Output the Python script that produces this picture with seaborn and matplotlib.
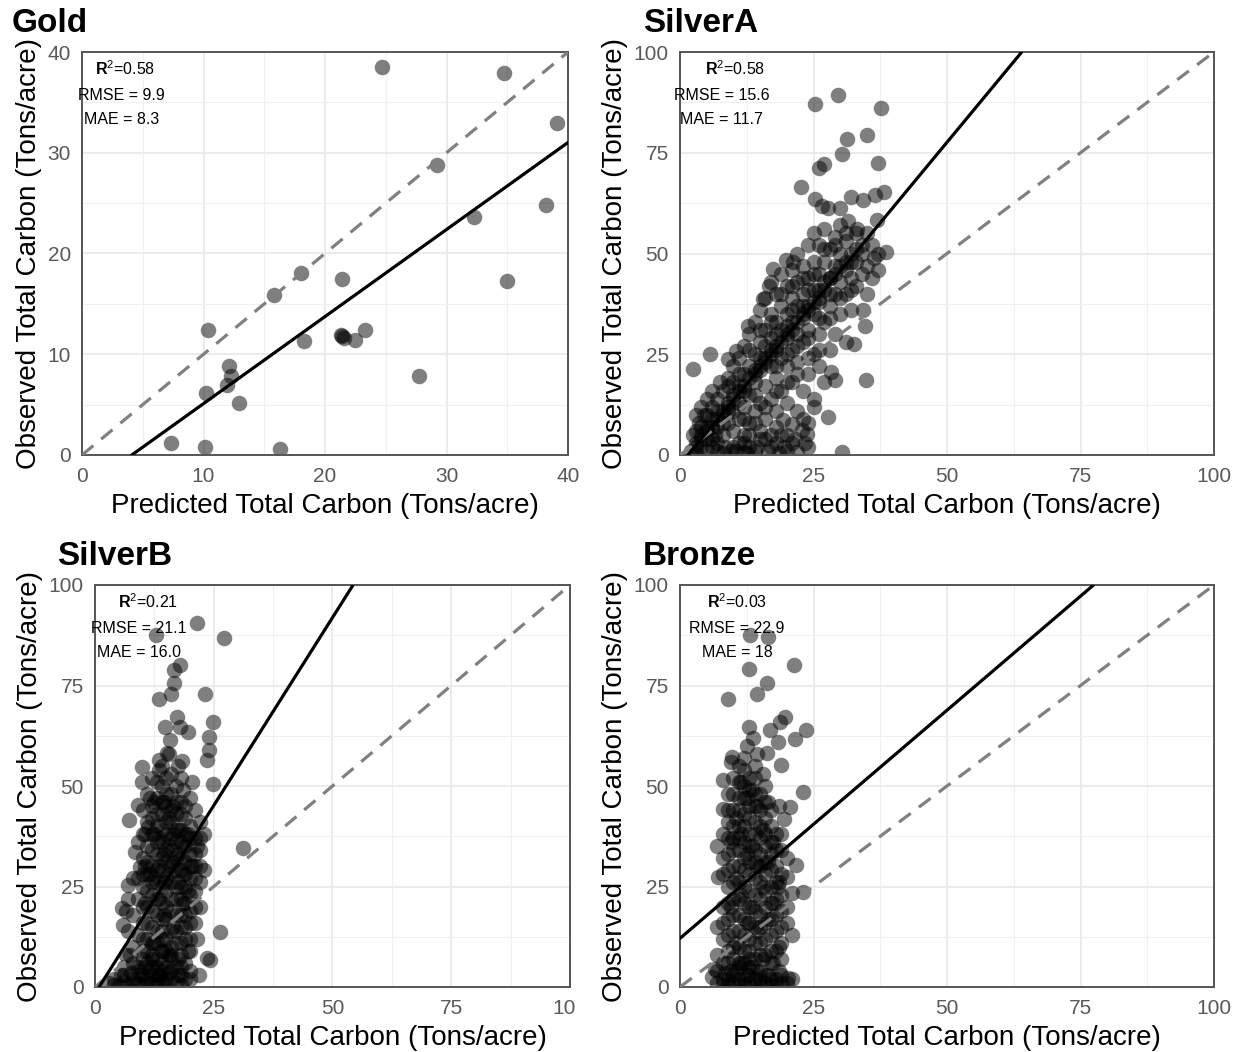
import matplotlib
matplotlib.use('Agg')
import matplotlib.pyplot as plt
from matplotlib.transforms import Bbox, TransformedBbox
import numpy as np
import pandas as pd
import seaborn as sns

sns.set_style("white")
plt.rcParams['font.family'] = ['Liberation Sans', 'DejaVu Sans']
plt.rcParams['text.color'] = 'black'
plt.rcParams['axes.labelcolor'] = 'black'
plt.rcParams['mathtext.fontset'] = 'custom'
plt.rcParams['mathtext.rm'] = 'Liberation Sans'
plt.rcParams['mathtext.bf'] = 'Liberation Sans:bold'

# --- data ---------------------------------------------------------------
gold_pred = [24.7, 34.7, 39.1, 29.2, 38.2, 32.3, 35.0, 18.0, 21.4, 15.8, 10.4, 18.3, 21.3,
             21.4, 21.6, 22.5, 23.3, 27.7, 12.1, 12.3, 11.9, 10.2, 12.9, 7.3, 10.1, 16.3]
gold_obs = [38.5, 37.9, 33.0, 28.8, 24.8, 23.6, 17.3, 18.1, 17.5, 15.9, 12.4, 11.3, 11.9,
            11.8, 11.6, 11.4, 12.4, 7.8, 8.8, 7.8, 6.9, 6.2, 5.2, 1.2, 0.8, 0.6]

silver_a_points = [
    (2.5, 21.4), (5.6, 25.1), (29.6, 89.3), (25.3, 87.0), (37.7, 86.2), (31.3, 78.4), (35.1, 79.4),
    (30.4, 74.6), (26.0, 71.2), (26.9, 72.2), (37.1, 72.4), (22.7, 66.6), (25.3, 63.4), (32.0, 64.1),
    (34.2, 63.3), (36.6, 64.4), (38.2, 65.3), (26.6, 61.7), (27.8, 61.3), (29.9, 61.2), (36.8, 58.2),
    (31.5, 58.0), (33.2, 56.2), (38.5, 50.4), (36.4, 49.0), (19.8, 48.3), (21.2, 48.0), (17.4, 46.1),
    (16.6, 41.9), (15.5, 38.7), (35.0, 39.9), (34.3, 36.1), (34.7, 32.1), (32.6, 27.6), (34.8, 18.7),
    (30.4, 0.8), (12.7, 32.1), (10.4, 25.9), (8.9, 23.9), (28.2, 20.6), (29.1, 18.5), (27.8, 9.5),
    (25.0, 14.0), (22.8, 6.2), (23.7, 5.3), (19.3, 8.6), (20.9, 7.8),
    (2, 1), (3, 0.5), (3, 3), (4, 2), (4, 5), (5, 1), (5, 4), (5, 7), (6, 2), (6, 9), (2.5, 5),
    (3.5, 8), (4.5, 10), (6.5, 5), (7, 1), (7, 3), (6, 12), (7, 7), (7, 14), (8, 5), (8, 10),
    (8, 16), (9, 8), (9, 13), (9, 19), (10, 6), (10, 11), (10, 15), (10, 22), (7.5, 18), (8.5, 2),
    (9.5, 1), (11, 3), (11, 9), (11, 17), (11, 24), (12, 5), (12, 12), (12, 20), (12, 27), (13, 2),
    (13, 8), (13, 15), (13, 22), (13, 30), (14, 11), (14, 18), (14, 25), (14, 33), (15, 4), (15, 13),
    (15, 21), (15, 28), (15, 36), (10.5, 1), (12.5, 0.5), (14.5, 2), (16, 9), (16, 17), (16, 24),
    (16, 31), (16, 39), (17, 14), (17, 22), (17, 29), (17, 35), (17, 43), (18, 3), (18, 11),
    (18, 19), (18, 26), (18, 33), (18, 40), (19, 16), (19, 24), (19, 31), (19, 37), (19, 45),
    (20, 5), (20, 13), (20, 22), (20, 29), (20, 35), (20, 42), (16.5, 1), (18.5, 0.5), (19.5, 2),
    (21, 18), (21, 26), (21, 33), (21, 39), (21, 46), (22, 11), (22, 23), (22, 30), (22, 37),
    (22, 43), (22, 50), (23, 16), (23, 28), (23, 34), (23, 40), (23, 47), (24, 2), (24, 20),
    (24, 31), (24, 37), (24, 44), (24, 52), (25, 12), (25, 25), (25, 35), (25, 41), (25, 48),
    (25, 55), (21.5, 4), (23.5, 3), (26, 22), (26, 30), (26, 38), (26, 45), (26, 52), (27, 18),
    (27, 33), (27, 41), (27, 48), (27, 56), (28, 26), (28, 37), (28, 44), (28, 51), (29, 30),
    (29, 40), (29, 47), (29, 54), (30, 35), (30, 43), (30, 50), (30, 57), (31, 28), (31, 40),
    (31, 46), (31, 53), (32, 36), (32, 44), (32, 50), (33, 42), (33, 48), (33, 55), (34, 45),
    (34, 52), (35, 47), (35, 55), (36, 44), (36, 52), (37, 50), (37, 46), (8, 0.5), (10, 2),
    (12, 3), (14, 1), (15, 6), (16, 4), (17, 2), (18, 7), (19, 5), (20, 1), (21, 3), (22, 0.8),
    (24, 8), (13, 5), (4, 12), (5, 14), (3, 10), (6, 16), (11, 13), (14, 21), (17, 26), (20, 32),
    (23, 37), (26, 41), (28, 40), (24, 41), (21, 36), (18, 30), (15, 24), (12, 17), (9, 11),
    (3, 2), (4, 4), (5, 6), (6, 7), (7, 9), (8, 11), (9, 12), (10, 14), (11, 16), (12, 16),
    (13, 19), (14, 20), (15, 22), (16, 23), (17, 25), (18, 27), (19, 28), (20, 30), (21, 31),
    (22, 33), (23, 35), (24, 36), (25, 38), (26, 39), (27, 43), (28, 44), (29, 45), (30, 47),
    (31, 48), (32, 48), (33, 51), (34, 50), (4, 7), (6, 4), (8, 8), (10, 18), (12, 9), (14, 15),
    (16, 27), (18, 22), (20, 25), (22, 27), (24, 29), (26, 34), (28, 34), (30, 39), (32, 41),
    (13, 26), (15, 31), (17, 33), (19, 40), (21, 42), (23, 44), (25, 45), (27, 51), (29, 52),
    (31, 55), (11, 20), (9, 17), (7, 11), (5, 10), (3, 6), (16, 12), (18, 16), (20, 18), (22, 20),
    (24, 24), (26, 26), (12, 0.8), (17, 5), (23, 9), (14, 8),
]

silver_b_points = [
    (21.4, 90.5), (27.2, 86.9), (12.8, 87.6), (17.9, 80.1), (16.6, 78.9), (16.6, 75.5), (15.9, 73.0),
    (13.5, 71.6), (23.2, 73.0), (17.2, 67.2), (14.7, 64.8), (17.9, 64.8), (24.9, 65.8), (19.6, 63.5),
    (15.8, 61.4), (24.1, 62.1), (23.9, 59.0), (15.2, 58.1), (13.5, 56.5), (18.3, 56.1), (23.5, 56.5),
    (9.8, 54.8), (9.8, 51.1), (24.9, 50.5), (11.6, 46.9), (7.2, 41.5), (9.1, 45.3), (11.2, 39.9),
    (31.2, 34.5), (8.4, 33.7), (9.5, 29.9), (7.0, 25.4), (5.6, 19.6), (5.9, 15.4), (26.3, 13.8),
    (7.4, 8.0), (23.5, 7.1), (21.8, 3.0), (24.2, 6.7),
    (3, 1), (4, 2), (5, 0.5), (6, 1.5), (7, 0.5), (8, 2), (9, 1), (10, 0.5), (11, 2), (12, 1),
    (13, 0.5), (14, 1.5), (15, 0.5), (16, 2), (17, 1), (18, 0.5), (5.5, 3), (7.5, 3.5), (9.5, 3),
    (11.5, 4), (13.5, 3), (15.5, 3.5), (17.5, 3), (19, 2), (6, 5), (8, 6), (10, 7), (12, 5),
    (14, 6), (16, 7), (18, 5), (20, 4),
    (8, 10), (8, 18), (8, 27), (9, 13), (9, 22), (9, 36), (10, 9), (10, 16), (10, 25), (10, 32),
    (10, 44), (11, 12), (11, 20), (11, 28), (11, 35), (11, 48), (12, 8), (12, 15), (12, 23),
    (12, 30), (12, 38), (12, 42), (12, 52), (13, 11), (13, 18), (13, 26), (13, 33), (13, 40),
    (13, 47), (14, 9), (14, 14), (14, 21), (14, 29), (14, 36), (14, 43), (14, 50), (14, 55),
    (15, 12), (15, 17), (15, 24), (15, 31), (15, 38), (15, 45), (15, 52), (16, 10), (16, 19),
    (16, 26), (16, 34), (16, 41), (16, 48), (16, 53), (17, 14), (17, 22), (17, 29), (17, 36),
    (17, 43), (17, 50), (18, 11), (18, 18), (18, 25), (18, 32), (18, 39), (18, 46), (18, 52),
    (19, 15), (19, 21), (19, 28), (19, 35), (19, 42), (20, 12), (20, 19), (20, 27), (20, 33),
    (20, 40), (20, 47), (21, 16), (21, 24), (21, 30), (21, 37), (21, 44), (22, 20), (22, 26),
    (22, 34), (22, 41), (23, 29), (23, 38),
    (10.5, 5), (10.5, 21), (10.5, 38), (12.5, 11), (12.5, 27), (12.5, 46), (13.5, 3), (13.5, 22),
    (13.5, 37), (13.5, 54), (14.5, 18), (14.5, 33), (14.5, 46), (15.5, 8), (15.5, 28), (15.5, 42),
    (15.5, 58), (16.5, 15), (16.5, 31), (16.5, 45), (17.5, 7), (17.5, 26), (17.5, 39), (17.5, 55),
    (18.5, 21), (18.5, 35), (18.5, 49), (19.5, 9), (19.5, 24), (19.5, 38), (20.5, 30), (20.5, 51),
    (21.5, 12), (21.5, 35), (7, 14), (7, 22), (6.5, 8), (6.5, 19),
    (9, 5), (9, 27), (10, 12), (10, 20), (10, 28), (10, 38), (11, 6), (11, 16), (11, 24), (11, 31),
    (11, 41), (12, 11), (12, 19), (12, 26), (12, 34), (12, 45), (13, 7), (13, 14), (13, 22),
    (13, 29), (13, 36), (13, 43), (13, 51), (14, 12), (14, 17), (14, 25), (14, 32), (14, 39),
    (14, 46), (15, 9), (15, 20), (15, 27), (15, 34), (15, 41), (15, 48), (16, 14), (16, 22),
    (16, 30), (16, 37), (16, 44), (17, 11), (17, 18), (17, 25), (17, 32), (17, 39), (17, 46),
    (18, 8), (18, 15), (18, 22), (18, 29), (18, 36), (18, 43), (19, 12), (19, 18), (19, 25),
    (19, 31), (19, 38), (19, 45), (20, 9), (20, 16), (20, 23), (20, 30), (20, 37), (21, 20),
    (21, 27), (21, 33), (22, 30), (22, 37), (12.5, 38), (13.5, 30), (14.5, 26), (15.5, 35),
    (16.5, 38), (17.5, 33), (18.5, 28), (11.5, 28), (10.5, 30),
    (4, 0.5), (6, 3), (8, 1), (9, 4), (10, 3), (11, 1), (12, 3), (13, 2), (14, 4), (15, 2), (16, 4),
    (17, 5), (18, 3), (19, 6), (20, 2), (12, 7), (14, 9), (16, 8), (11, 9), (13, 5), (15, 5),
]

bronze_points = [
    (13.1, 87.6), (16.4, 87.1), (21.3, 80.1), (13.0, 79.0), (16.2, 75.5), (14.5, 73.0), (8.9, 71.6),
    (19.7, 67.2), (18.7, 66.0), (13.0, 64.6), (16.9, 63.9), (23.6, 63.9), (21.5, 61.6), (13.6, 61.9),
    (18.4, 61.0), (16.2, 58.1), (9.7, 57.3), (19.0, 55.2), (8.0, 51.5), (23.0, 48.6), (20.6, 44.9),
    (8.0, 44.2), (19.4, 41.7), (21.8, 30.3), (20.0, 27.4), (18.4, 25.0), (20.9, 23.3), (23.1, 23.7),
    (7.2, 27.4), (6.6, 4.6), (5.9, 2.6), (20.3, 2.2),
    (7, 1), (8, 0.5), (9, 2), (10, 1), (11, 0.5), (12, 2), (13, 1), (14, 0.5), (15, 2), (16, 1),
    (17, 0.5), (18, 2), (19, 1), (8.5, 3.5), (10.5, 4), (12.5, 3), (14.5, 4), (16.5, 3), (18.5, 4),
    (7, 8), (7, 15), (7, 35), (8, 6), (8, 12), (8, 20), (8, 28), (8, 38), (9, 9), (9, 17), (9, 25),
    (9, 33), (9, 41), (9, 48), (10, 7), (10, 14), (10, 22), (10, 30), (10, 37), (10, 44), (10, 52),
    (11, 10), (11, 18), (11, 26), (11, 34), (11, 40), (11, 47), (11, 55), (12, 6), (12, 13),
    (12, 21), (12, 29), (12, 36), (12, 43), (12, 50), (12, 57), (13, 9), (13, 16), (13, 24),
    (13, 31), (13, 38), (13, 45), (13, 52), (14, 11), (14, 19), (14, 27), (14, 34), (14, 41),
    (14, 48), (14, 55), (15, 8), (15, 15), (15, 22), (15, 30), (15, 37), (15, 44), (16, 12),
    (16, 20), (16, 28), (16, 35), (16, 42), (16, 50), (17, 9), (17, 17), (17, 25), (17, 33),
    (17, 40), (18, 14), (18, 22), (18, 30), (18, 38), (19, 11), (19, 19), (19, 34), (20, 16),
    (21, 13),
    (9.5, 4), (9.5, 20), (9.5, 36), (9.5, 56), (10.5, 11), (10.5, 27), (10.5, 42), (11.5, 6),
    (11.5, 23), (11.5, 38), (11.5, 51), (12.5, 16), (12.5, 33), (12.5, 47), (12.5, 60), (13.5, 5),
    (13.5, 20), (13.5, 35), (13.5, 49), (14.5, 14), (14.5, 30), (14.5, 45), (14.5, 58), (15.5, 7),
    (15.5, 25), (15.5, 39), (15.5, 53), (16.5, 17), (16.5, 31), (16.5, 46), (17.5, 6), (17.5, 21),
    (17.5, 36), (18.5, 10), (18.5, 26), (18.5, 45),
    (8, 16), (8, 32), (9, 13), (9, 21), (9, 29), (9, 37), (9, 44), (10, 10), (10, 18), (10, 26),
    (10, 34), (10, 40), (10, 48), (11, 6), (11, 14), (11, 22), (11, 30), (11, 37), (11, 44),
    (11, 51), (12, 9), (12, 17), (12, 25), (12, 32), (12, 40), (12, 47), (12, 54), (13, 5),
    (13, 12), (13, 20), (13, 28), (13, 35), (13, 42), (13, 49), (14, 7), (14, 15), (14, 23),
    (14, 31), (14, 38), (14, 45), (14, 52), (15, 11), (15, 18), (15, 26), (15, 33), (15, 40),
    (15, 48), (16, 8), (16, 16), (16, 24), (16, 31), (16, 38), (16, 46), (17, 13), (17, 21),
    (17, 29), (17, 36), (17, 44), (18, 9), (18, 18), (18, 26), (18, 34), (19, 15), (19, 23),
    (19, 28), (19, 38), (20, 20), (20, 32),
    (8, 2), (9, 0.5), (10, 3), (11, 2), (12, 0.5), (13, 3), (14, 2), (15, 0.5), (16, 3), (17, 2),
    (18, 0.5), (19, 3), (20, 1), (21, 2), (7, 4), (9, 6), (11, 5), (13, 7), (15, 4), (17, 6), (19, 7),
]

panel_names = ["Gold", "SilverA", "SilverB", "Bronze"]
fit_intercepts = [-3.54, -2.4, -1.6, 12.1]
fit_slopes = [0.864, 1.6, 1.87, 1.135]
r2_labels = ["0.58", "0.58", "0.21", "0.03"]
rmse_labels = ["9.9", "15.6", "21.1", "22.9"]
mae_labels = ["8.3", "11.7", "16.0", "18"]
axis_max = [40, 100, 100, 100]
tick_step = [10, 25, 25, 25]

# --- figure -------------------------------------------------------------
W, H = 1241, 1052
fig = plt.figure(figsize=(W / 100, H / 100), dpi=100)

# axes boxes in pixels: left, top, right, bottom
boxes = [(82, 52, 568, 455), (680, 52, 1214, 455), (95, 585, 570, 987), (680, 585, 1214, 987)]
title_pos = [(12, 32), (643, 32), (57, 565), (643, 565)]
# stats text centres (axes fraction)
stats_x = [(0.088, 0.082, 0.082), (0.103, 0.079, 0.077), (0.112, 0.093, 0.093), (0.107, 0.107, 0.107)]

frames = [
    pd.DataFrame({"pred": gold_pred, "obs": gold_obs}),
    pd.DataFrame(silver_a_points, columns=["pred", "obs"]),
    pd.DataFrame(silver_b_points, columns=["pred", "obs"]),
    pd.DataFrame(bronze_points, columns=["pred", "obs"]),
]

border = '#555555'
for i, df in enumerate(frames):
    l, t, r, b = boxes[i]
    ax = fig.add_axes([l / W, 1 - b / H, (r - l) / W, (b - t) / H])
    lim = axis_max[i]
    step = tick_step[i]

    sns.scatterplot(data=df, x="pred", y="obs", ax=ax, color='black', alpha=0.5,
                    s=125, linewidth=0, zorder=2)
    ax.axline((0, 0), slope=1, color='#808080', lw=2.3, dashes=(4.6, 3.2), zorder=3)
    ax.axline((0, fit_intercepts[i]), slope=fit_slopes[i], color='black', lw=2.3, zorder=4)

    ax.set_xlim(0, lim)
    ax.set_ylim(0, lim)
    ticks = np.arange(0, lim + 1, step)
    ax.set_xticks(ticks)
    ax.set_yticks(ticks)
    ax.set_xticks(ticks[:-1] + step / 2, minor=True)
    ax.set_yticks(ticks[:-1] + step / 2, minor=True)
    ax.grid(which='major', color='#e8e8e8', lw=1.2, zorder=0)
    ax.grid(which='minor', color='#f0f0f0', lw=0.8, zorder=0)
    ax.set_axisbelow(True)
    ax.tick_params(which='major', direction='out', length=4, width=1.2, color=border,
                   labelsize=15, labelcolor='#595959', pad=4)
    ax.tick_params(axis='x', which='major', pad=5)
    ax.tick_params(which='minor', length=0)
    for sp in ax.spines.values():
        sp.set_color(border)
        sp.set_linewidth(1.4)

    ax.set_xlabel("Predicted Total Carbon (Tons/acre)", fontsize=20, labelpad=5)
    ax.set_ylabel("Observed Total Carbon (Tons/acre)", fontsize=20, labelpad=4)

    sx = stats_x[i]
    ax.text(sx[0], 0.958, r"$\mathbf{R}^{2}$=" + r2_labels[i], transform=ax.transAxes,
            ha='center', va='center', fontsize=11.5)
    ax.text(sx[1], 0.891, "RMSE = " + rmse_labels[i], transform=ax.transAxes,
            ha='center', va='center', fontsize=11.5)
    ax.text(sx[2], 0.833, "MAE = " + mae_labels[i], transform=ax.transAxes,
            ha='center', va='center', fontsize=11.5)

    tx, ty = title_pos[i]
    fig.text(tx / W, 1 - ty / H, panel_names[i], fontsize=24, fontweight='bold',
             ha='left', va='baseline')

    if panel_names[i] == "SilverB":
        # the original panel was cropped just right of its border, cutting the "100" label
        crop = TransformedBbox(Bbox([[0, 0], [576 / W, 1]]), fig.transFigure)
        last = ax.xaxis.get_major_ticks()[-1].label1
        last.set_clip_box(crop)
        last.set_clip_on(True)

fig.savefig("out.png", dpi=100)
plt.close(fig)
